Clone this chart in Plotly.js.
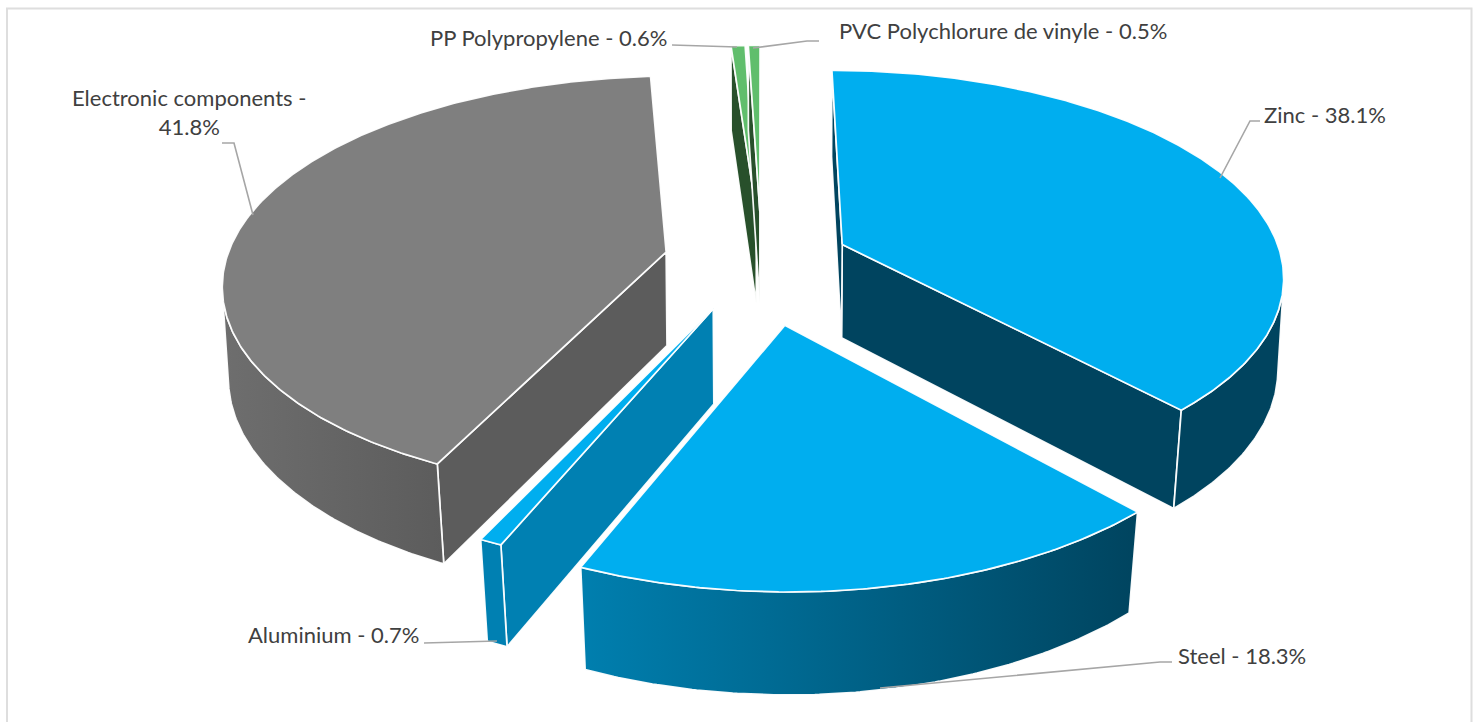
<!DOCTYPE html>
<html><head><meta charset="utf-8">
<script src="https://cdn.plot.ly/plotly-3.0.1.min.js"></script>
<style>html,body{margin:0;padding:0;background:#fff}#c{width:1478px;height:722px}</style>
</head><body><div id="c"></div>
<script>
const materials = ["Zinc","Steel","Aluminium","Electronic components","PP Polypropylene","PVC Polychlorure de vinyle"];
const shares = [38.1,18.3,0.7,41.8,0.6,0.5];
const explode = [92,135,110,92,108,108];
const nudgeX = [0,3,2.5,-1.5,4,4];
const topColors = ["#00AEEF","#00AEEF","#00AEEF","#7F7F7F","#60BE6C","#60BE6C"];
const wallColorsA = ["#00445F","#007FAF","#0080B2","#6E6E6E","#28502B","#28502B"];
const wallColorsB = ["#00445F","#00445F","#0080B2","#5C5C5C","#28502B","#28502B"];
const radialWall = ["#00445F","#00445F","#0080B2","#5C5C5C","#28502B","#28502B"];
const drawOrder = [4,5,0,3,2,1];

const cx=757.5, cy=260, R=440, p=0.14;
function proj(X,Y,low,nx){
  const s=1/(1+p*Y/R);
  const ky=Y>=0 ? 0.465/(1+0.15*Y/R) : 0.47/(1+0.145*Y/R);
  const bx=low?Math.min(0.995,0.99+0.012*Y/R):1;
  const depth=low?93.8-0.016*Y:0;
  return [cx+nx+X*s*bx, cy-ky*Y+depth];
}
const rad=d=>d*Math.PI/180;
function slice(i,a0,a1){
  const mid=rad((a0+a1)/2), ex=explode[i]*Math.sin(mid), ey=explode[i]*Math.cos(mid);
  const pt=(a,low)=>proj(ex+R*Math.sin(rad(a)),ey+R*Math.cos(rad(a)),low,nudgeX[i]);
  const apex=low=>proj(ex,ey,low,nudgeX[i]);
  const steps=Math.max(6,Math.ceil((a1-a0)*2));
  const angles=[];for(let j=0;j<=steps;j++)angles.push(a0+(a1-a0)*j/steps);
  const arc=low=>angles.map(a=>pt(a,low));
  // the outer wall exists only where the rim faces the viewer
  const front=angles.filter(a=>{
    const t0=pt(a-0.25,false),t1=pt(a+0.25,false),u=pt(a,false),v=pt(a,true);
    return (t1[0]-t0[0])*(v[1]-u[1])-(t1[1]-t0[1])*(v[0]-u[0])<0;
  });
  return {pt,apex,arc,front};
}
const traces=[];
function poly(points,color,grad){
  const xs=points.map(q=>q[0]).concat(points[0][0]);
  const ys=points.map(q=>q[1]).concat(points[0][1]);
  const t={x:xs,y:ys,mode:"lines",fill:"toself",fillcolor:color,line:{color:"rgba(255,255,255,0.95)",width:1.7},hoverinfo:"skip",showlegend:false};
  if(grad) t.fillgradient={type:"horizontal",colorscale:[[0,grad[0]],[1,grad[1]]]};
  traces.push(t);
}
const total=shares.reduce((a,b)=>a+b,0);
const starts=[];let acc=0;
shares.forEach(v=>{starts.push(acc/total*360);acc+=v;});
drawOrder.forEach(i=>{
  const a0=starts[i],a1=starts[i]+shares[i]/total*360;
  const S=slice(i,a0,a1);
  poly([S.apex(false),S.pt(a1,false),S.pt(a1,true),S.apex(true)],radialWall[i]);
  poly([S.apex(false),S.pt(a0,false),S.pt(a0,true),S.apex(true)],radialWall[i]);
  if(S.front.length>1){
    poly(S.front.map(a=>S.pt(a,false)).concat(S.front.slice().reverse().map(a=>S.pt(a,true))),wallColorsA[i],[wallColorsA[i],wallColorsB[i]]);
  }
  poly([S.apex(false)].concat(S.arc(false)),topColors[i]);
});
const leaders=[
 [[672,45],[737,47]],
 [[753,48],[807,41],[819,41]],
 [[1220,178],[1250,121],[1260,121]],
 [[253,215],[234,143],[222,143]],
 [[424,643],[460,642],[497,641]],
 [[880,688],[1160,662],[1172,662]]
];
leaders.forEach(l=>traces.push({x:l.map(q=>q[0]),y:l.map(q=>q[1]),mode:"lines",line:{color:"#A6A6A6",width:1.6},hoverinfo:"skip",showlegend:false}));
const pct=i=>materials[i]+" - "+shares[i].toFixed(1)+"%";
const ann=[
 {t:pct(0),x:1262,y:114,a:"left"},
 {t:pct(1),x:1176,y:655,a:"left"},
 {t:pct(2),x:421,y:634,a:"right"},
 {t:materials[3]+" -<br>"+shares[3].toFixed(1)+"%",x:189,y:112,a:"center"},
 {t:pct(4),x:669,y:37,a:"right"},
 {t:pct(5),x:837,y:30,a:"left"}
].map(o=>({text:o.t,x:o.x,y:o.y,xref:"x",yref:"y",xanchor:o.a,yanchor:"middle",align:o.a,showarrow:false,font:{family:"Lato, Open Sans, sans-serif",size:22,color:"#404040"}}));
const layout={width:1478,height:722,margin:{l:0,r:0,t:0,b:0},paper_bgcolor:"#fff",plot_bgcolor:"#fff",showlegend:false,
 xaxis:{range:[0,1478],visible:false,fixedrange:true},
 yaxis:{range:[722,0],visible:false,fixedrange:true},
 annotations:ann,
 shapes:[{type:"path",path:"M7,722 L7,8.5 L1471.5,8.5 L1471.5,722",xref:"x",yref:"y",line:{color:"#DEDEDE",width:2},layer:"below"}]
};
Plotly.newPlot("c",traces,layout,{staticPlot:true,displayModeBar:false});
</script></body></html>
